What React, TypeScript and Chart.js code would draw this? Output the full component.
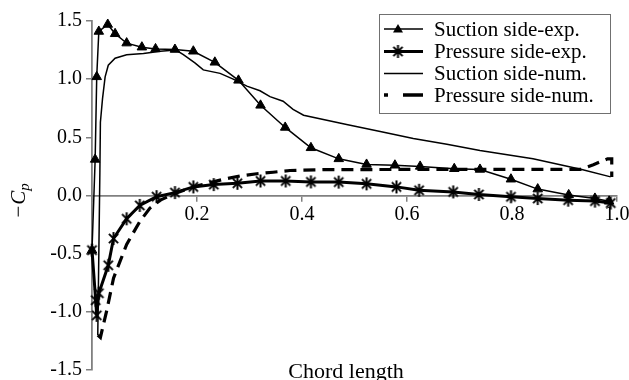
import React, { useEffect, useRef } from "react";
import { Chart, registerables } from "chart.js";

Chart.register(...registerables);

// ---- data ----
const suctionExpX = [0, 0.006, 0.009, 0.013, 0.03, 0.044, 0.066, 0.095, 0.121, 0.158, 0.193, 0.234, 0.279, 0.321, 0.368, 0.417, 0.47, 0.523, 0.577, 0.625, 0.69, 0.739, 0.798, 0.849, 0.908, 0.958, 0.985];
const suctionExpY = [-0.47, 0.31, 1.02, 1.41, 1.47, 1.39, 1.31, 1.275, 1.26, 1.255, 1.24, 1.145, 0.99, 0.775, 0.585, 0.41, 0.315, 0.267, 0.26, 0.25, 0.23, 0.224, 0.14, 0.055, 0.005, -0.025, -0.05];

const pressureExpX = [0, 0.007, 0.009, 0.013, 0.031, 0.041, 0.066, 0.091, 0.123, 0.158, 0.193, 0.232, 0.277, 0.321, 0.369, 0.417, 0.47, 0.523, 0.58, 0.623, 0.688, 0.737, 0.798, 0.849, 0.907, 0.958, 0.988];
const pressureExpY = [-0.47, -0.9, -1.03, -0.84, -0.6, -0.37, -0.2, -0.085, -0.01, 0.025, 0.074, 0.094, 0.105, 0.125, 0.125, 0.117, 0.115, 0.1, 0.074, 0.045, 0.031, 0.009, -0.011, -0.026, -0.04, -0.048, -0.065];

const suctionNumX = [0.011, 0.013, 0.015, 0.016, 0.02, 0.025, 0.031, 0.044, 0.066, 0.098, 0.13, 0.16, 0.174, 0.196, 0.212, 0.244, 0.269, 0.295, 0.32, 0.339, 0.364, 0.383, 0.403, 0.485, 0.549, 0.612, 0.676, 0.739, 0.84, 0.933, 0.988];
const suctionNumY = [-1.2, -0.5, 0.2, 0.63, 0.83, 1.02, 1.12, 1.18, 1.21, 1.22, 1.24, 1.25, 1.21, 1.14, 1.08, 1.05, 1.0, 0.94, 0.9, 0.85, 0.81, 0.74, 0.69, 0.61, 0.55, 0.49, 0.44, 0.386, 0.315, 0.224, 0.16];

const pressureNumX = [0.011, 0.016, 0.028, 0.041, 0.066, 0.091, 0.11, 0.13, 0.158, 0.193, 0.231, 0.25, 0.282, 0.314, 0.345, 0.377, 0.44, 0.6, 0.8, 0.93, 0.955, 0.982, 0.99, 0.99];
const pressureNumY = [-1.2, -1.22, -0.99, -0.71, -0.42, -0.224, -0.11, -0.04, 0.017, 0.074, 0.117, 0.139, 0.168, 0.187, 0.2, 0.215, 0.222, 0.224, 0.224, 0.224, 0.265, 0.315, 0.315, 0.16];

const seriesLabels = ["Suction side-exp.", "Pressure side-exp.", "Suction side-num.", "Pressure side-num."];
const xTitle = "Chord length";
const yTitleMain = "\u2212C";
const yTitleSub = "p";

const zip = (xs: number[], ys: number[]) => xs.map((x, i) => ({ x, y: ys[i] }));

const FONT = '"Liberation Serif", "Times New Roman", serif';
const AXIS_GRAY = "#808080";

function makeAsterisk(size: number, lw: number): HTMLCanvasElement {
  const c = document.createElement("canvas");
  c.width = size;
  c.height = size;
  const g = c.getContext("2d")!;
  g.strokeStyle = "#000";
  g.lineWidth = lw;
  const m = size / 2;
  const r = size / 2 - 1;
  const d = r * Math.SQRT1_2;
  g.beginPath();
  g.moveTo(m, m - r);
  g.lineTo(m, m + r);
  g.moveTo(m - d, m - d);
  g.lineTo(m + d, m + d);
  g.moveTo(m + d, m - d);
  g.lineTo(m - d, m + d);
  g.stroke();
  return c;
}

export default function App() {
  const ref = useRef<HTMLCanvasElement | null>(null);

  useEffect(() => {
    document.body.style.margin = "0";
    const canvas = ref.current;
    if (!canvas) return;
    const aster = makeAsterisk(15, 2);

    const legendPlugin = {
      id: "customLegend",
      afterDraw(chart: any) {
        const ctx = chart.ctx as CanvasRenderingContext2D;
        const bx = 379, by = 14, bw = 231, bh = 99;
        ctx.save();
        ctx.fillStyle = "#fff";
        ctx.fillRect(bx, by, bw, bh);
        ctx.strokeStyle = "#707070";
        ctx.lineWidth = 1;
        ctx.strokeRect(bx + 0.5, by + 0.5, bw, bh);
        const rows = [29, 51.5, 73.5, 95];
        const x1 = 384, x2 = 423, mx = 398;
        ctx.strokeStyle = "#000";
        ctx.fillStyle = "#000";
        ctx.lineWidth = 1.5;
        ctx.beginPath(); ctx.moveTo(x1, rows[0]); ctx.lineTo(x2, rows[0]); ctx.stroke();
        ctx.beginPath();
        ctx.moveTo(mx, rows[0] - 5); ctx.lineTo(mx + 5, rows[0] + 3.5); ctx.lineTo(mx - 5, rows[0] + 3.5); ctx.closePath(); ctx.fill();
        ctx.lineWidth = 3;
        ctx.beginPath(); ctx.moveTo(x1, rows[1]); ctx.lineTo(x2, rows[1]); ctx.stroke();
        ctx.drawImage(aster, mx - aster.width / 2, rows[1] - aster.height / 2);
        ctx.lineWidth = 1.5;
        ctx.beginPath(); ctx.moveTo(x1, rows[2]); ctx.lineTo(x2, rows[2]); ctx.stroke();
        ctx.lineWidth = 3.5;
        ctx.setLineDash([20, 15]);
        ctx.beginPath(); ctx.moveTo(x2, rows[3]); ctx.lineTo(x1, rows[3]); ctx.stroke();
        ctx.setLineDash([]);
        ctx.font = `21px ${FONT}`;
        ctx.textBaseline = "middle";
        ctx.textAlign = "left";
        seriesLabels.forEach((t, i) => ctx.fillText(t, 434, rows[i] + 1));
        ctx.restore();
      },
    };

    const titlePlugin = {
      id: "axisTitles",
      afterDraw(chart: any) {
        const ctx = chart.ctx as CanvasRenderingContext2D;
        const ca = chart.chartArea;
        ctx.save();
        ctx.fillStyle = "#000";
        ctx.font = `22px ${FONT}`;
        ctx.textAlign = "center";
        ctx.textBaseline = "alphabetic";
        ctx.fillText(xTitle, ca.left + (ca.right - ca.left) * 0.484, 378);
        ctx.translate(25, 201);
        ctx.rotate(-Math.PI / 2);
        ctx.font = `italic 21px ${FONT}`;
        const wMain = ctx.measureText(yTitleMain).width;
        ctx.font = `italic 15px ${FONT}`;
        const wSub = ctx.measureText(yTitleSub).width;
        const total = wMain + wSub;
        ctx.textAlign = "left";
        ctx.font = `italic 21px ${FONT}`;
        ctx.fillText(yTitleMain, -total / 2, 0);
        ctx.font = `italic 15px ${FONT}`;
        ctx.fillText(yTitleSub, -total / 2 + wMain, 4);
        ctx.restore();
      },
    };

    const chart = new Chart(canvas, {
      type: "scatter",
      data: {
        datasets: [
          {
            label: seriesLabels[0],
            data: zip(suctionExpX, suctionExpY),
            showLine: true,
            borderColor: "#000",
            backgroundColor: "#000",
            borderWidth: 1.5,
            pointStyle: "triangle",
            pointRadius: 5.5,
            pointBorderWidth: 1,
            clip: false,
          },
          {
            label: seriesLabels[1],
            data: zip(pressureExpX, pressureExpY),
            showLine: true,
            borderColor: "#000",
            backgroundColor: "#000",
            borderWidth: 3,
            pointStyle: aster,
            pointRadius: 7,
            clip: false,
          },
          {
            label: seriesLabels[2],
            data: zip(suctionNumX, suctionNumY),
            showLine: true,
            borderColor: "#000",
            borderWidth: 1.5,
            pointRadius: 0,
            clip: false,
          },
          {
            label: seriesLabels[3],
            data: zip(pressureNumX, pressureNumY),
            showLine: true,
            borderColor: "#000",
            borderWidth: 3.2,
            borderDash: [12, 7],
            pointRadius: 0,
            clip: false,
          },
        ],
      },
      options: {
        animation: false,
        responsive: false,
        devicePixelRatio: 1,
        layout: { padding: { left: 0, right: 12, top: 21, bottom: 7 } },
        plugins: { legend: { display: false }, tooltip: { enabled: false } },
        scales: {
          x: {
            type: "linear",
            position: { y: 0 },
            min: 0,
            max: 1,
            grid: { drawOnChartArea: false, drawTicks: true, tickLength: 5, color: AXIS_GRAY, lineWidth: 1.5 },
            border: { color: AXIS_GRAY, width: 1.8 },
            ticks: {
              stepSize: 0.2,
              padding: 2,
              color: "#000",
              font: { family: FONT, size: 20 },
              maxRotation: 0,
              callback: (v: any) => (Math.abs(Number(v)) < 1e-9 ? "" : Number(v).toFixed(1)),
            },
            afterFit: (s: any) => { s.paddingLeft = 0; s.paddingRight = 0; },
          },
          y: {
            type: "linear",
            position: "left",
            min: -1.5,
            max: 1.5,
            grid: { drawOnChartArea: false, drawTicks: true, tickLength: 6, color: AXIS_GRAY, lineWidth: 1.5 },
            border: { color: AXIS_GRAY, width: 1.8 },
            ticks: {
              stepSize: 0.5,
              padding: 4,
              color: "#000",
              font: { family: FONT, size: 20 },
              callback: (v: any) => Number(v).toFixed(1),
            },
            afterFit: (s: any) => { s.width = 92; s.paddingTop = 0; s.paddingBottom = 0; },
          },
        },
      },
      plugins: [legendPlugin, titlePlugin],
    } as any);
    return () => chart.destroy();
  }, []);

  return (
    <div style={{ width: 629, height: 380, background: "#fff" }}>
      <canvas ref={ref} width={629} height={380} style={{ display: "block" }} />
    </div>
  );
}
